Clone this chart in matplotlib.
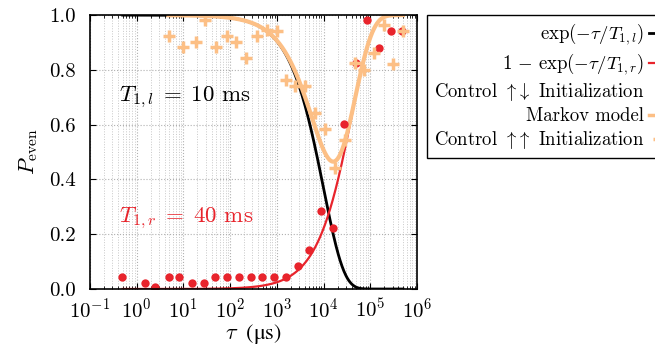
import numpy as np
import matplotlib
matplotlib.use("Agg")
import matplotlib.pyplot as plt
from matplotlib.lines import Line2D
from matplotlib.ticker import LogLocator, NullFormatter

plt.rcParams["font.family"] = ["cmr10", "DejaVu Serif"]
plt.rcParams["mathtext.fontset"] = "cm"
plt.rcParams["axes.formatter.use_mathtext"] = True
plt.rcParams["axes.unicode_minus"] = False

# relaxation times (us)
T1_L = 1e4
T1_R = 4e4

# Control up-down initialization (tau in us, P_even)
tau_ud = [0.49, 1.5, 2.5, 5.0, 8.2, 15.5, 27, 48, 85, 157, 277, 490, 885, 1580,
          2800, 4900, 8900, 16000, 28000, 50000, 84000, 156000, 280000, 480000]
p_ud = [0.043, 0.023, 0.006, 0.043, 0.043, 0.023, 0.023, 0.043, 0.043, 0.043, 0.043,
        0.043, 0.043, 0.045, 0.084, 0.143, 0.283, 0.221, 0.601, 0.824, 0.982, 0.881,
        0.942, 0.942]

# Control up-up initialization
tau_uu = [4.8, 10, 19, 29, 51, 85, 133, 215, 370, 610, 1000, 1580, 2450, 4000, 6700,
          11000, 18000, 29000, 47000, 74000, 120000, 200000, 300000, 490000]
p_uu = [0.925, 0.884, 0.903, 0.982, 0.884, 0.925, 0.903, 0.842, 0.925, 0.945, 0.942,
        0.763, 0.741, 0.741, 0.641, 0.583, 0.44, 0.544, 0.824, 0.80, 0.86, 0.964,
        0.821, 0.942]

RED = "#e8242c"
ORANGE = "#fcbf85"

tau = np.logspace(np.log10(0.5), np.log10(5e5), 600)
decay_l = np.exp(-tau / T1_L)
rise_r = 1 - np.exp(-tau / T1_R)

# Markov model, starts at first up-up point
tau_m = np.logspace(np.log10(4.8), np.log10(5e5), 600)
markov = np.exp(-tau_m / T1_L) + (1 - np.exp(-tau_m / T1_L)) * (1 - np.exp(-tau_m / T1_R))

fig = plt.figure(figsize=(6.55, 3.51), dpi=100)
ax = fig.add_axes([0.1374, 0.1766, 0.4992, 0.7804])

ax.plot(tau, decay_l, color="black", lw=2)
ax.plot(tau, rise_r, color=RED, lw=1.6)
ax.plot(tau_m, markov, color=ORANGE, lw=3)
ax.plot(tau_ud, p_ud, "o", color=RED, ms=6, mec="none")
ax.plot(tau_uu, p_uu, "+", color=ORANGE, ms=9, mew=2.5)

ax.set_xscale("log")
ax.set_xlim(1e-1, 1e6)
ax.set_ylim(0, 1)
ax.set_yticks([0, 0.2, 0.4, 0.6, 0.8, 1.0])
ax.set_yticklabels(["0.0", "0.2", "0.4", "0.6", "0.8", "1.0"])
ax.xaxis.set_major_locator(LogLocator(base=10, numticks=20))
ax.xaxis.set_minor_locator(LogLocator(base=10, subs=np.arange(2, 10), numticks=20))
ax.xaxis.set_minor_formatter(NullFormatter())
ax.tick_params(which="both", direction="in", top=True, right=True, labelsize=15)
ax.tick_params(axis="y", pad=10)
ax.tick_params(axis="x", pad=6)
ax.tick_params(which="major", length=4)
ax.tick_params(which="minor", length=2)
ax.grid(which="major", ls=":", color="#b0b0b0", lw=0.8)
ax.grid(which="minor", axis="x", ls=":", color="#c8c8c8", lw=0.7)
for s in ax.spines.values():
    s.set_linewidth(1.2)

ax.set_xlabel(r"$\tau\;$ (μs)", fontsize=16, labelpad=0, family=["STIXGeneral"])
ax.set_ylabel(r"$P_{\mathrm{even}}$", fontsize=16, labelpad=7)

ax.text(0.42, 0.70, r"$T_{1,l}\;=\;10$ ms", fontsize=16.5, color="black", va="center")
ax.text(0.42, 0.26, r"$T_{1,r}\;=\;40$ ms", fontsize=16.5, color=RED, va="center")

handles = [
    Line2D([], [], color="black", lw=2),
    Line2D([], [], color=RED, lw=1.6),
    Line2D([], [], ls="none", marker="o", color=RED, ms=5, mec="none"),
    Line2D([], [], color=ORANGE, lw=2.5),
    Line2D([], [], ls="none", marker="+", color=ORANGE, ms=8, mew=2.5),
]
labels = [
    r"$\exp(-\tau/T_{1,l})$",
    r"$1\,-\,\exp(-\tau/T_{1,r})$",
    r"Control $\uparrow\!\downarrow$ Initialization",
    "Markov model",
    r"Control $\uparrow\!\uparrow$ Initialization",
]
leg = fig.legend(handles, labels, loc="upper left", bbox_to_anchor=(427 / 655, 1 - 15 / 351),
                 markerfirst=False, fontsize=13.5, handlelength=1.1, handletextpad=0.25,
                 labelspacing=0.22, borderpad=0.35, borderaxespad=0, fancybox=False,
                 framealpha=1, edgecolor="black")
leg.get_frame().set_linewidth(1.0)
for t in leg.get_texts():
    t.set_ha("right")
leg._legend_box.align = "right"

fig.savefig("out.png", dpi=100)
